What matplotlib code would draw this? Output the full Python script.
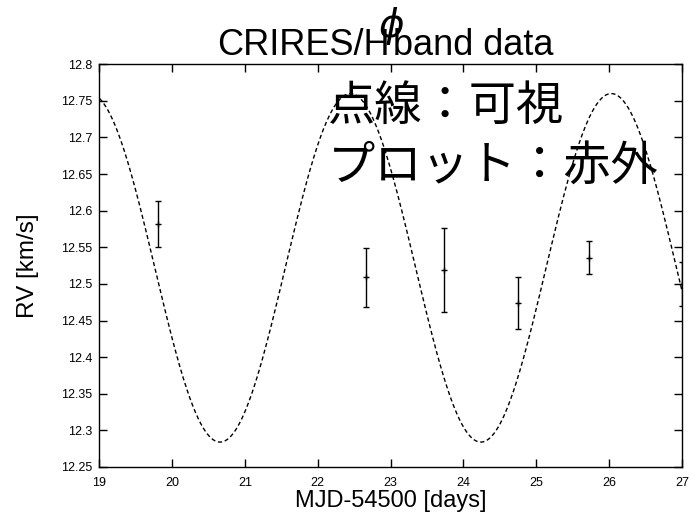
import numpy as np
import matplotlib.pyplot as plt

# CRIRES H-band radial velocities (MJD-54500, km/s)
mjd = [19.80, 22.66, 23.73, 24.75, 25.73, 27.00]
rv = [12.582, 12.509, 12.519, 12.474, 12.536, 12.500]
rv_err = [0.031, 0.040, 0.058, 0.036, 0.022, 0.030]

# optical RV model (sinusoid): systemic velocity, semi-amplitude, period, time of minimum
gamma = 12.522
k_amp = 0.238
period = 3.581
t_min = 20.658

xlim = (19, 27)
ylim = (12.25, 12.8)
xticks = [19, 20, 21, 22, 23, 24, 25, 26, 27]
yticks = [12.25, 12.3, 12.35, 12.4, 12.45, 12.5, 12.55, 12.6, 12.65, 12.7, 12.75, 12.8]

plt.rcParams['font.family'] = ['Liberation Sans', 'DejaVu Sans']

fig = plt.figure(figsize=(6.89, 5.13), dpi=100)
ax = fig.add_axes([0.1441, 0.0897, 0.8457, 0.785])

t = np.linspace(xlim[0], xlim[1], 800)
model = gamma - k_amp * np.cos(2 * np.pi * (t - t_min) / period)
ax.plot(t, model, color='black', linestyle=(0, (3, 2)), linewidth=1.0)

ax.errorbar(mjd, rv, yerr=rv_err, fmt='+', color='black', markersize=5,
            elinewidth=1.0, capsize=2.5, capthick=1.0, markeredgewidth=1.0)

ax.set_xlim(*xlim)
ax.set_ylim(*ylim)
ax.set_xticks(xticks)
ax.set_xticklabels([str(v) for v in xticks])
ax.set_yticks(yticks)
ax.set_yticklabels([f'{v:g}' for v in yticks])
ax.tick_params(direction='in', top=True, right=True, length=6, width=1,
               labelsize=9)
ax.tick_params(axis='x', pad=7)
ax.tick_params(axis='y', pad=5)
for s in ax.spines.values():
    s.set_linewidth(1.0)

ax.set_xlabel('MJD-54500 [days]', fontsize=17, labelpad=1)
ax.set_ylabel('RV [km/s]', fontsize=17.5)
ax.yaxis.set_label_coords(-0.1035, 0.5)

# title in two pieces with the phi symbol overprinted between them
fig.text(0.566, 0.893, 'CRIRES/H', fontsize=26, ha='right', va='baseline')
fig.text(0.5705, 0.893, 'band data', fontsize=26, ha='left', va='baseline')
fig.text(0.5675, 0.949, r'$\phi$', fontsize=28, ha='center', va='center')

jp = ['Noto Sans CJK JP', 'DejaVu Sans']
ax.text(0.393, 0.895, '点線：可視', transform=ax.transAxes, fontsize=34,
        family=jp, ha='left', va='center')
ax.text(0.393, 0.747, 'プロット：赤外', transform=ax.transAxes, fontsize=34,
        family=jp, ha='left', va='center')

fig.savefig('out.png', dpi=100)
